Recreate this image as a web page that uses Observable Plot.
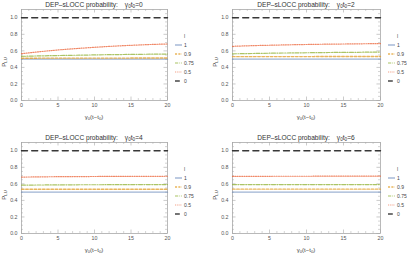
<!DOCTYPE html>
<html><head><meta charset="utf-8">
<script src="https://cdn.jsdelivr.net/npm/d3@7"></script>
<script src="https://cdn.jsdelivr.net/npm/@observablehq/plot@0.6"></script>
<style>
body{margin:0;background:#fff;}
#root{position:relative;width:407px;height:255px;overflow:hidden;font-family:"Liberation Sans",Arial,sans-serif;}
.abs{position:absolute;white-space:nowrap;line-height:1;}
.title{font-size:6.6px;color:#333;transform:translate(-50%,-50%);}
.xlab{font-size:6px;color:#444;transform:translate(-50%,-50%);}
.ylab{font-size:6px;color:#444;transform:translate(-50%,-50%) rotate(-90deg);}
.leg{font-size:5px;color:#444;}
.abs svg{display:block;}
sub{font-size:70%;vertical-align:-0.25em;line-height:0;}
</style></head>
<body><div id="root"></div>
<script>
// ---- data ----
const tVals = [0, 2, 4, 6, 8, 10, 12, 14, 16, 18, 20];
const lLabels = ["1", "0.9", "0.75", "0.5", "0"];
const t0Labels = ["0", "2", "4", "6"];
const xTicks = [0, 5, 10, 15, 20];
const yTicks = [0, 0.2, 0.4, 0.6, 0.8, 1.0];

// panel γ0 t0 = 0
const a_l1   = [0.5, 0.5, 0.5, 0.5, 0.5, 0.5, 0.5, 0.5, 0.5, 0.5, 0.5];
const a_l09  = [0.511, 0.511, 0.512, 0.512, 0.512, 0.513, 0.513, 0.513, 0.514, 0.514, 0.514];
const a_l075 = [0.534, 0.538, 0.542, 0.545, 0.548, 0.551, 0.554, 0.556, 0.558, 0.560, 0.562];
const a_l05  = [0.566, 0.585, 0.603, 0.618, 0.631, 0.643, 0.654, 0.663, 0.671, 0.678, 0.683];
const a_l0   = [1, 1, 1, 1, 1, 1, 1, 1, 1, 1, 1];
// panel γ0 t0 = 2
const b_l1   = [0.5, 0.5, 0.5, 0.5, 0.5, 0.5, 0.5, 0.5, 0.5, 0.5, 0.5];
const b_l09  = [0.530, 0.530, 0.531, 0.531, 0.531, 0.531, 0.532, 0.532, 0.532, 0.532, 0.532];
const b_l075 = [0.564, 0.567, 0.570, 0.573, 0.575, 0.577, 0.579, 0.581, 0.582, 0.584, 0.585];
const b_l05  = [0.655, 0.661, 0.666, 0.670, 0.674, 0.677, 0.680, 0.682, 0.684, 0.686, 0.688];
const b_l0   = [1, 1, 1, 1, 1, 1, 1, 1, 1, 1, 1];
// panel γ0 t0 = 4
const c_l1   = [0.5, 0.5, 0.5, 0.5, 0.5, 0.5, 0.5, 0.5, 0.5, 0.5, 0.5];
const c_l09  = [0.535, 0.535, 0.535, 0.535, 0.535, 0.535, 0.535, 0.535, 0.535, 0.535, 0.535];
const c_l075 = [0.585, 0.586, 0.587, 0.588, 0.589, 0.589, 0.590, 0.590, 0.591, 0.591, 0.592];
const c_l05  = [0.682, 0.684, 0.686, 0.687, 0.688, 0.689, 0.690, 0.690, 0.691, 0.691, 0.692];
const c_l0   = [1, 1, 1, 1, 1, 1, 1, 1, 1, 1, 1];
// panel γ0 t0 = 6
const d_l1   = [0.5, 0.5, 0.5, 0.5, 0.5, 0.5, 0.5, 0.5, 0.5, 0.5, 0.5];
const d_l09  = [0.536, 0.536, 0.536, 0.536, 0.536, 0.536, 0.536, 0.536, 0.536, 0.536, 0.536];
const d_l075 = [0.591, 0.591, 0.591, 0.592, 0.592, 0.592, 0.592, 0.592, 0.592, 0.592, 0.592];
const d_l05  = [0.690, 0.691, 0.691, 0.692, 0.692, 0.692, 0.693, 0.693, 0.693, 0.693, 0.693];
const d_l0   = [1, 1, 1, 1, 1, 1, 1, 1, 1, 1, 1];

const panelSeries = [
  [a_l1, a_l09, a_l075, a_l05, a_l0],
  [b_l1, b_l09, b_l075, b_l05, b_l0],
  [c_l1, c_l09, c_l075, c_l05, c_l0],
  [d_l1, d_l09, d_l075, d_l05, d_l0]
];

// ---- styles ----
const colors = ["#5E81B5", "#E19C24", "#8FB032", "#EB6235", "#222222"];
const dashes = [null, "2.6,1.6", "4,1.4,1,1.4", "1,1.3", "6,4.2"];
const widths = [1.4, 1.3, 1.2, 1.2, 1.4];
const opac = [0.6, 0.75, 0.75, 0.75, 0.9];

const layout = [
  {left: 0,   top: 0,   w: 200, h: 122, ml: 21, mr: 33, mt: 9, mb: 22},
  {left: 200, top: 0,   w: 207, h: 122, ml: 32, mr: 27, mt: 9, mb: 22},
  {left: 0,   top: 133, w: 200, h: 122, ml: 21, mr: 33, mt: 9, mb: 22},
  {left: 200, top: 133, w: 207, h: 122, ml: 32, mr: 27, mt: 9, mb: 22}
];

const root = document.getElementById("root");
const frameC = "#a8a8a8";
const xMinor = d3.range(0, 21, 1).filter(v => v % 5 !== 0);
const yMinor = d3.range(0.05, 1.1, 0.05).map(v => +v.toFixed(2)).filter(v => Math.round(v * 100) % 20 !== 0);

function add(html, cls, x, y) {
  const d = document.createElement("div");
  d.className = "abs " + cls;
  d.style.left = x + "px"; d.style.top = y + "px";
  d.innerHTML = html;
  root.appendChild(d);
  return d;
}

layout.forEach((L, p) => {
  const marks = [
    Plot.frame({stroke: frameC, strokeWidth: 0.8}),
    Plot.ruleX(xTicks, {y1: 0, y2: 0.042, stroke: frameC, strokeWidth: 0.6}),
    Plot.ruleX(xMinor, {y1: 0, y2: 0.024, stroke: frameC, strokeWidth: 0.5}),
    Plot.ruleX(xTicks, {y1: 1.1, y2: 1.058, stroke: frameC, strokeWidth: 0.6}),
    Plot.ruleX(xMinor, {y1: 1.1, y2: 1.076, stroke: frameC, strokeWidth: 0.5}),
    Plot.ruleY(yTicks, {x1: 0, x2: 0.48, stroke: frameC, strokeWidth: 0.6}),
    Plot.ruleY(yMinor, {x1: 0, x2: 0.27, stroke: frameC, strokeWidth: 0.5}),
    Plot.ruleY(yTicks, {x1: 20, x2: 19.52, stroke: frameC, strokeWidth: 0.6}),
    Plot.ruleY(yMinor, {x1: 20, x2: 19.73, stroke: frameC, strokeWidth: 0.5}),
    Plot.axisX({ticks: xTicks, tickSize: 0, tickPadding: 3, label: null, tickFormat: d => String(d)}),
    Plot.axisY({ticks: yTicks, tickSize: 0, tickPadding: 4, label: null, tickFormat: d => d.toFixed(1)})
  ];
  panelSeries[p].forEach((vals, i) => {
    const rows = tVals.map((t, k) => ({t, p: vals[k], l: lLabels[i]}));
    marks.push(Plot.line(rows, {
      x: "t", y: "p", stroke: colors[i], strokeWidth: widths[i],
      strokeOpacity: opac[i], strokeDasharray: dashes[i], curve: "monotone-x"
    }));
  });
  const chart = Plot.plot({
    width: L.w, height: L.h,
    marginLeft: L.ml, marginRight: L.mr, marginTop: L.mt, marginBottom: L.mb,
    x: {domain: [0, 20]}, y: {domain: [0, 1.1]},
    style: {background: "transparent", color: "#555", fontSize: "5.3px", fontFamily: "Liberation Sans, Arial, sans-serif"},
    marks
  });
  const holder = add("", "", L.left, L.top);
  holder.appendChild(chart);

  const x0 = L.left + L.ml, x1 = L.left + L.w - L.mr;
  const cx = (x0 + x1) / 2;
  add("DEP\u2013sLOCC probability:<span style=\"display:inline-block;width:7px\"></span>γ<sub>0</sub>t<sub>0</sub>=" + t0Labels[p], "title", cx, L.top + 5);
  add("γ<sub>0</sub>(t\u2212t<sub>0</sub>)", "xlab", cx, L.top + 117);
  add("P<sub>LU</sub>", "ylab", x0 - 17, L.top + 62);

  // legend
  const lx = x1 + 8;
  add("l", "leg", lx + 9, L.top + 34);
  lLabels.forEach((lab, i) => {
    const y = L.top + 45 + i * 9;
    const dash = dashes[i] ? ` stroke-dasharray="${dashes[i].split(',').map(v => v * 0.8).join(',')}"` : "";
    const sw = `<svg width="7" height="4" style="position:absolute;left:0;top:-2px"><line x1="0" y1="2" x2="7" y2="2" stroke="${colors[i]}" stroke-opacity="${opac[i]}" stroke-width="${widths[i]}"${dash}/></svg>`;
    add(sw + `<span style="position:absolute;left:9px;top:-2.5px">${lab}</span>`, "leg", lx, y);
  });
});
</script></body></html>
